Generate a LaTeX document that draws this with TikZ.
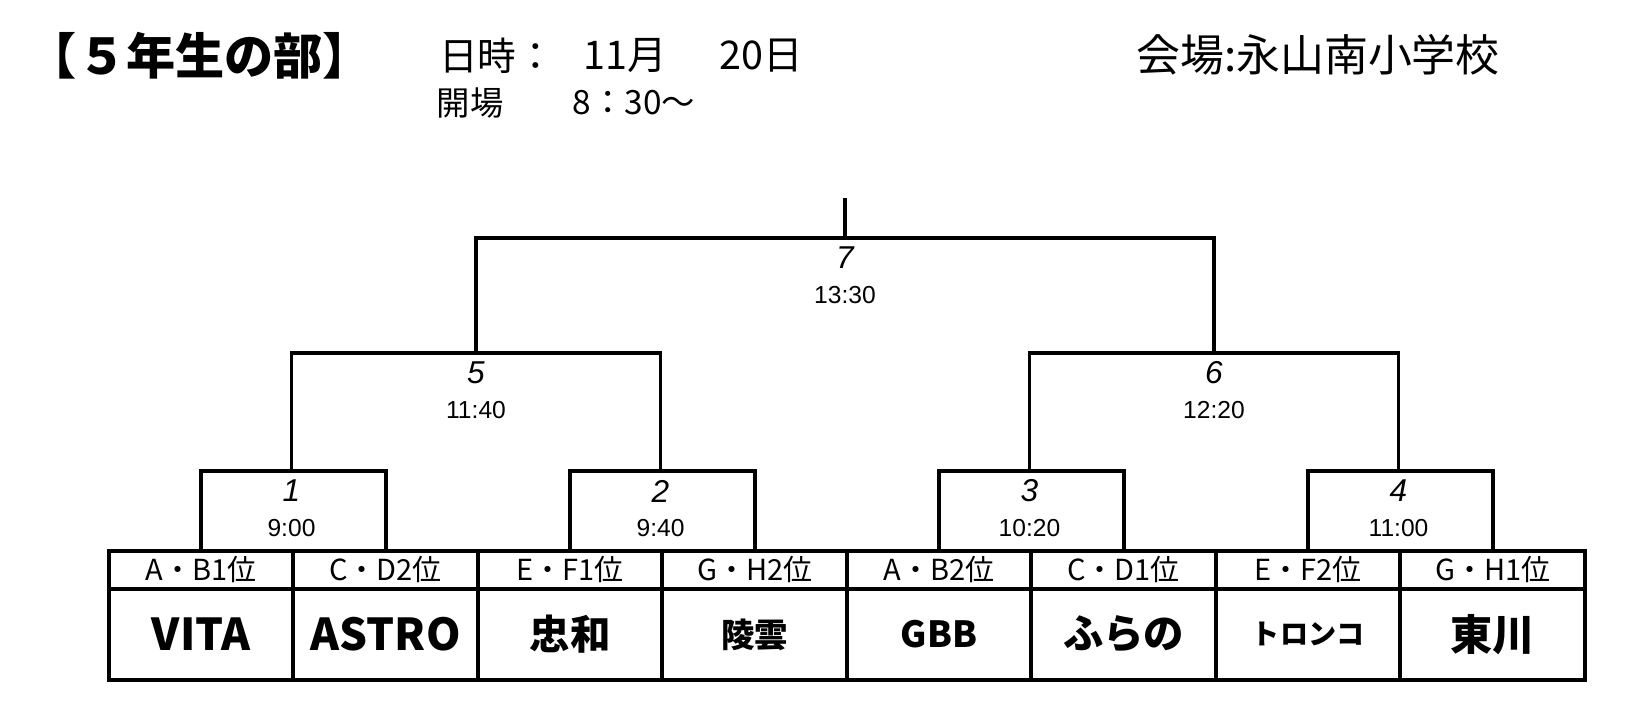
\documentclass[tikz,border=0pt]{standalone}
\usepackage{fontspec}
\setmainfont{Noto Sans CJK JP}
\newfontfamily\numfont{Liberation Sans}
\usetikzlibrary{calc,positioning}
\def\fsz#1{\fontsize{#1pt}{#1pt}\selectfont}

\begin{document}
\begin{tikzpicture}[x=0.02cm, y=-0.02cm, line width=2.2pt,
		cell/.style={draw, inner sep=0, minimum width=3.69cm, anchor=north west},
		rank/.style={cell, minimum height=0.76cm, font=\fsz{16.5}},
		team/.style={cell, minimum height=1.82cm},
		game/.style={inner sep=0, font=\numfont\itshape\fsz{18}},
		clock/.style={inner sep=0, font=\numfont\fsz{14}},
		head/.style={inner sep=0}]
		%%%%% START %%%%%
		\useasboundingbox (0,0) rectangle (1645,722);
		
		\node[head, font=\bfseries\fsz{28}] (title) at (200,56) {【５年生の部】};
		\node[head, font=\fsz{22}] (date) at (497,56) {日時：};
		\node[head, font=\fsz{22.5}] (month) at (625,56) {11月};
		\node[head, font=\fsz{22.5}] (day) at (761,56) {20日};
		\node[head, font=\fsz{19}] (open) at (470,103) {開場};
		\node[head, font=\fsz{19}] (opentime) at (634,103) {8：30～};
		\node[head, font=\fsz{25}] (venue) at (1318,55) {会場:永山南小学校};
		
		% table
		\foreach \i/\r/\t/\s in {1/A・B1位/VITA/25, 2/C・D2位/ASTRO/25, 3/E・F1位/忠和/23, 4/G・H2位/陵雲/19,
				5/A・B2位/GBB/20.5, 6/C・D1位/ふらの/23, 7/E・F2位/トロンコ/16, 8/G・H1位/東川/24}{
			\node[rank] (r\i) at ({107+184.5*(\i-1)},549) {\r};
			\node[team, font=\bfseries\fsz{\s}] (t\i) at ({107+184.5*(\i-1)},587) {\t};
		}
		
		% bracket
		\coordinate (g1) at (291.5,471);
		\coordinate (g2) at (660.5,471);
		\coordinate (g3) at (1029.5,471);
		\coordinate (g4) at (1398.5,471);
		\coordinate (g5) at (476,353);
		\coordinate (g6) at (1214,353);
		\coordinate (g7) at (845,238);
		\coordinate (top) at (845,198);
		
		\draw (r1.north) |- (g1) -| (r2.north);
		\draw (r3.north) |- (g2) -| (r4.north);
		\draw (r5.north) |- (g3) -| (r6.north);
		\draw (r7.north) |- (g4) -| (r8.north);
		\draw (g1) |- (g5) -| (g2);
		\draw (g3) |- (g6) -| (g4);
		\draw (g5) |- (g7) -| (g6);
		\draw (g7) -- (top);
		
		\foreach \g/\tm in {1/9:00, 2/9:40, 3/10:20, 4/11:00, 5/11:40, 6/12:20, 7/13:30}{
			\node[game] (k\g) at ($(g\g)+(0,20)$) {\g};
			\node[clock] (c\g) at ($(g\g)+(0,57)$) {\tm};
		}
		%%%%% END %%%%%
\end{tikzpicture}
\end{document}
